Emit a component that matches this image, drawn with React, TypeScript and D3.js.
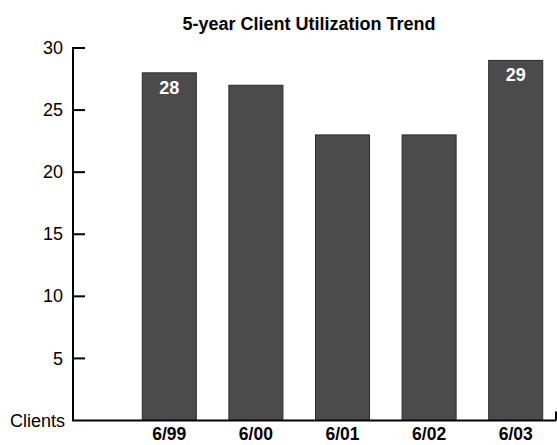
import { max, scaleBand, scaleLinear } from 'd3'

const WIDTH = 557
const HEIGHT = 445
const AXIS_X = 73
const AXIS_Y = 420.5
const TOP_Y = 48
const FONT = '"Liberation Sans", Arial, Helvetica, sans-serif'

const periods = ['6/99', '6/00', '6/01', '6/02', '6/03']
const clients = [28, 27, 23, 23, 29]
const labelled = [true, false, false, false, true]
const yTicks = [0, 5, 10, 15, 20, 25, 30]

export default function App() {
  const xScale = scaleBand<string>()
    .domain(periods)
    .range([126, 559])
    .paddingInner(0.376)
    .paddingOuter(0.188)
  const yScale = scaleLinear()
    .domain([0, Math.max(max(clients) ?? 30, 30)])
    .range([AXIS_Y, TOP_Y])

  return (
    <svg
      width={WIDTH}
      height={HEIGHT}
      viewBox={`0 0 ${WIDTH} ${HEIGHT}`}
      style={{ position: 'absolute', left: 0, top: 0, background: '#fff' }}
      fontFamily={FONT}
    >
      <text x={309} y={30} textAnchor="middle" fontSize={18} fontWeight="bold">
        5-year Client Utilization Trend
      </text>

      {periods.map((period, i) => {
        const x = xScale(period) ?? 0
        const y = yScale(clients[i])
        return (
          <g key={period}>
            <rect
              x={x}
              y={y}
              width={xScale.bandwidth()}
              height={AXIS_Y - y}
              fill="#4b4b4b"
              stroke="#2b2b2b"
              strokeWidth={1}
            />
            {labelled[i] && (
              <text
                x={x + xScale.bandwidth() / 2}
                y={y + 21}
                textAnchor="middle"
                fontSize={18}
                fontWeight="bold"
                fill="#fff"
              >
                {clients[i]}
              </text>
            )}
            <text
              x={x + xScale.bandwidth() / 2}
              y={440}
              textAnchor="middle"
              fontSize={17.5}
              fontWeight="bold"
            >
              {period}
            </text>
          </g>
        )
      })}

      {/* y axis, ticks pointing inward */}
      <line x1={AXIS_X} x2={AXIS_X} y1={TOP_Y - 1} y2={AXIS_Y} stroke="#000" strokeWidth={2} />
      {yTicks.map((t) => (
        <g key={t} transform={`translate(0,${yScale(t)})`}>
          {t > 0 && <line x1={AXIS_X} x2={AXIS_X + 12} stroke="#000" strokeWidth={2} />}
          <text
            x={t === 0 ? AXIS_X - 8 : AXIS_X - 10}
            dy="0.34em"
            textAnchor="end"
            fontSize={18}
          >
            {t === 0 ? 'Clients' : t}
          </text>
        </g>
      ))}

      {/* x axis */}
      <line x1={AXIS_X - 1} x2={556} y1={AXIS_Y} y2={AXIS_Y} stroke="#000" strokeWidth={2} />
      <line x1={556} x2={556} y1={AXIS_Y} y2={AXIS_Y - 9} stroke="#000" strokeWidth={2} />
    </svg>
  )
}
